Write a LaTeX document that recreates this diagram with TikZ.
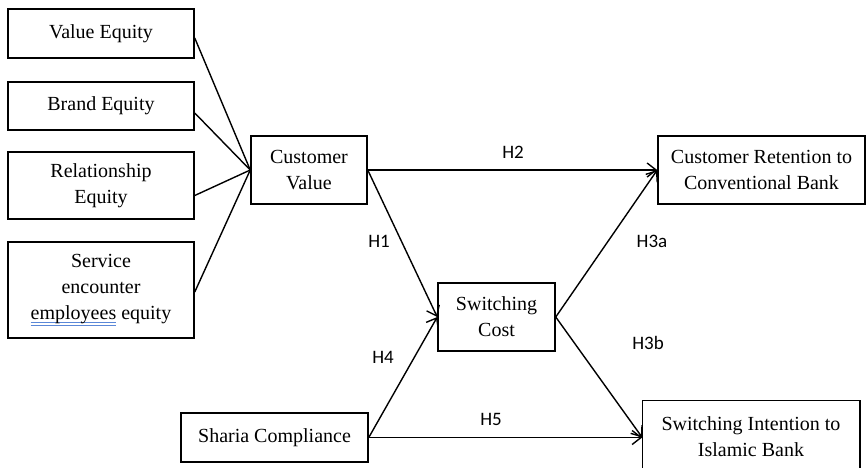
\documentclass[tikz,border=0pt]{standalone}
\usepackage{fontspec}
\setmainfont{Liberation Serif}
\newfontfamily\lblfont{Carlito}
\usetikzlibrary{arrows.meta,calc}
\definecolor{ublue}{RGB}{90,135,215}
\newcommand\spellul[1]{\setbox0\hbox{#1}\rlap{\textcolor{ublue}{\rule[-3.4pt]{\wd0}{0.7pt}}}\rlap{\textcolor{ublue}{\rule[-6pt]{\wd0}{0.7pt}}}#1}
\begin{document}
\begin{tikzpicture}[x=1pt,y=-1pt,
 box/.style={draw,line width=1.5pt,rectangle,inner sep=0pt,align=center,font=\fontsize{20}{26}\selectfont},
 lbl/.style={font=\lblfont\fontsize{19}{22}\selectfont,inner sep=0pt},
 conn/.style={line width=1.4pt},
 arr/.style={conn,-{Straight Barb[length=9pt,width=14pt,line width=1.4pt]}}]
\useasboundingbox (0,0) rectangle (868,467);
\clip (0,0) rectangle (868,467);
\node[box,minimum width=186pt,minimum height=49pt] (ve) at (101,33.5) {Value Equity};
\node[box,minimum width=186pt,minimum height=48pt] (be) at (101,106) {Brand Equity};
\node[box,minimum width=186pt,minimum height=67pt] (re) at (101,185.5) {Relationship\\Equity};
\node[box,minimum width=186pt,minimum height=96pt] (se) at (101,290) {Service\\encounter\\\spellul{employees} equity};
\node[box,minimum width=116pt,minimum height=68pt] (cv) at (309,170) {Customer\\Value};
\node[box,minimum width=117pt,minimum height=68pt] (sc) at (496.5,317) {Switching\\Cost};
\node[box,minimum width=207pt,minimum height=68pt] (cr) at (761.5,170) {Customer Retention to\\Conventional Bank};
\node[box,minimum width=187pt,minimum height=49pt] (sh) at (274.5,437.5) {Sharia Compliance};
\node[box,draw=none,minimum width=216pt,minimum height=71pt] (si) at (751,436.5) {Switching Intention to\\Islamic Bank};
\draw[line width=1.5pt] (si.north west) rectangle ($(si.south east)+(0,14)$);
\draw[conn] ($(ve.east)+(0,4.5)$) -- (cv.west);
\draw[conn] ($(be.east)+(0,7)$) -- (cv.west);
\draw[conn] ($(re.east)+(0,10)$) -- (cv.west);
\draw[conn] ($(se.east)+(0,2)$) -- (cv.west);
\draw[arr] (cv.east) -- (cr.west);
\draw[arr] (cv.east) -- (sc.west);
\draw[arr] (sh.east) -- (sc.west);
\draw[arr] (sc.east) -- (cr.west);
\draw[arr] (sc.east) -- ($(si.west)+(0,1)$);
\draw[arr] (sh.east) -- ($(si.west)+(0,1)$);
\node[lbl] (h1) at (379,241) {H1};
\node[lbl] (h2) at (513,152) {H2};
\node[lbl] (h3a) at (652,241) {H3a};
\node[lbl] (h3b) at (648,343) {H3b};
\node[lbl] (h4) at (383,357) {H4};
\node[lbl] (h5) at (491,419) {H5};
\end{tikzpicture}
\end{document}
